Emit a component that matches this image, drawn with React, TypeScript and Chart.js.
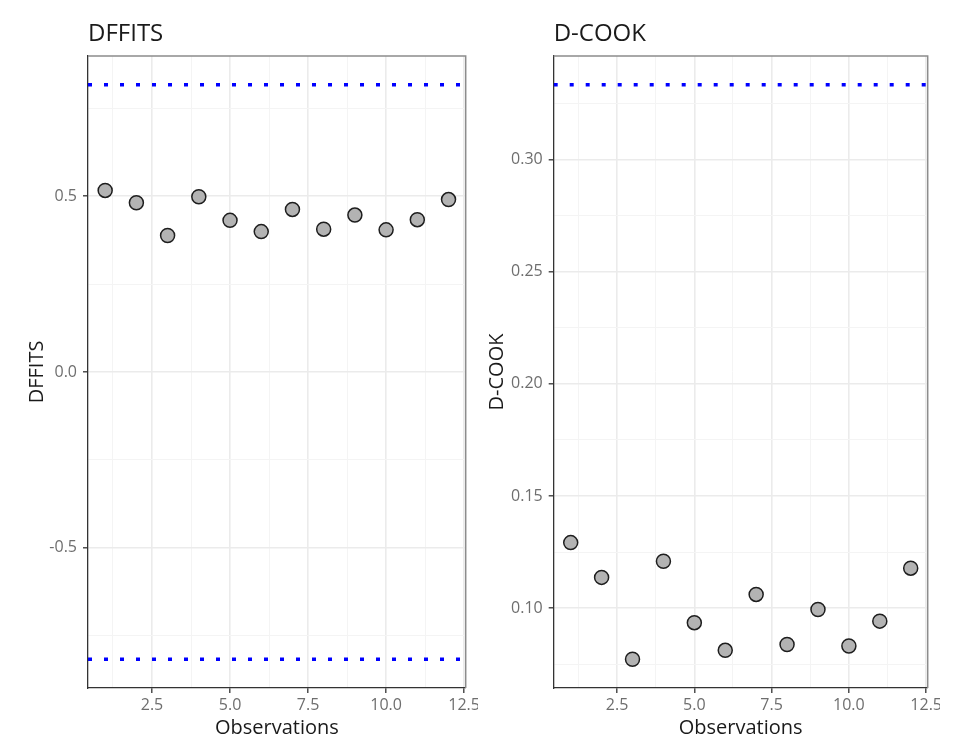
import React, { useEffect, useRef } from "react";
import { Chart, registerables } from "chart.js";

Chart.register(...registerables);

// ---------- data ----------
const OBSERVATIONS = [1, 2, 3, 4, 5, 6, 7, 8, 9, 10, 11, 12];
const DFFITS_VALUES = [0.516, 0.481, 0.388, 0.498, 0.431, 0.399, 0.462, 0.406, 0.446, 0.404, 0.433, 0.49];
const COOK_VALUES = [0.1292, 0.1137, 0.0772, 0.1209, 0.0935, 0.0812, 0.1061, 0.0838, 0.0994, 0.0831, 0.0942, 0.1178];
const DFFITS_THRESHOLD = 0.8165; // +/- cut-off lines
const COOK_THRESHOLD = 0.3333;

const X_MAJOR = [2.5, 5, 7.5, 10, 12.5];
const X_MINOR = [1.25, 3.75, 6.25, 8.75, 11.25];
const DFFITS_Y_MAJOR = [-0.5, 0, 0.5];
const DFFITS_Y_MINOR = [-0.75, -0.25, 0.25, 0.75];
const COOK_Y_MAJOR = [0.1, 0.15, 0.2, 0.25, 0.3];
const COOK_Y_MINOR = [0.075, 0.125, 0.175, 0.225, 0.275, 0.325];

const FONT = "'Open Sans', 'Noto Sans', 'DejaVu Sans', sans-serif";

type PanelProps = {
  title: string;
  values: number[];
  thresholds: number[];
  yMajor: number[];
  yMinor: number[];
  yDecimals: number;
  left: number;
  width: number;
  yAxisWidth: number;
  yTitlePad: number;
};

const isIn = (arr: number[], v: number) => arr.some((m) => Math.abs(m - v) < 1e-9);

function Panel(p: PanelProps) {
  const ref = useRef<HTMLCanvasElement>(null);
  useEffect(() => {
    const canvas = ref.current!;
    const xs = OBSERVATIONS;
    const xRange = Math.max(...xs) - Math.min(...xs);
    const xMin = Math.min(...xs) - 0.05 * xRange;
    const xMax = Math.max(...xs) + 0.05 * xRange;
    const allY = [...p.values, ...p.thresholds];
    const yLo = Math.min(...allY);
    const yHi = Math.max(...allY);
    const yMin = yLo - 0.05 * (yHi - yLo);
    const yMax = yHi + 0.05 * (yHi - yLo);

    const panelBorder = {
      id: "panelBorder",
      afterDraw(chart: any) {
        const { ctx, chartArea: a } = chart;
        ctx.save();
        ctx.strokeStyle = "#8c8c8c";
        ctx.lineWidth = 1.5;
        ctx.beginPath();
        ctx.moveTo(a.left, a.top);
        ctx.lineTo(a.right, a.top);
        ctx.lineTo(a.right, a.bottom);
        ctx.stroke();
        ctx.restore();
      },
    };

    const gridColor = (majors: number[]) => (c: any) =>
      c.tick && isIn(majors, c.tick.value) ? "#ebebeb" : "#f4f4f4";
    const gridWidth = (majors: number[]) => (c: any) =>
      c.tick && isIn(majors, c.tick.value) ? 1.6 : 1;
    const tickColor = (majors: number[]) => (c: any) =>
      c.tick && isIn(majors, c.tick.value) ? "#333333" : "rgba(0,0,0,0)";

    const lineSets = p.thresholds.map((t) => ({
      type: "scatter" as const,
      data: [
        { x: xMin, y: t },
        { x: xMax, y: t },
      ],
      showLine: true,
      borderColor: "#0000ff",
      borderWidth: 3.6,
      borderDash: [4, 12],
      borderCapStyle: "butt" as const,
      pointRadius: 0,
      pointHoverRadius: 0,
    }));

    const chart = new Chart(canvas, {
      type: "scatter",
      data: {
        datasets: [
          {
            data: xs.map((x, i) => ({ x, y: p.values[i] })),
            pointRadius: 7,
            pointHoverRadius: 7,
            backgroundColor: "#b3b3b3",
            borderColor: "#1e1e1e",
            borderWidth: 1.5,
          },
          ...lineSets,
        ] as any,
      },
      options: {
        animation: false,
        responsive: false,
        devicePixelRatio: 1,
        layout: { padding: { top: 0, left: 0, bottom: 0, right: 12.3 } },
        plugins: {
          legend: { display: false },
          tooltip: { enabled: false },
          title: {
            display: true,
            text: p.title,
            align: "start",
            fullSize: false,
            color: "#1a1a1a",
            font: { family: FONT, size: 24, weight: "normal" },
            padding: { top: 20, bottom: 7.2 },
          },
        },
        scales: {
          x: {
            type: "linear",
            min: xMin,
            max: xMax,
            afterBuildTicks: (s: any) => {
              s.ticks = [...X_MAJOR, ...X_MINOR].sort((a, b) => a - b).map((v) => ({ value: v }));
            },
            afterFit: (s: any) => {
              s.height = 61;
              s.paddingLeft = 0;
              s.paddingRight = 0;
            },
            ticks: {
              autoSkip: false,
              maxRotation: 0,
              padding: 3.2,
              color: "#6e6e6e",
              font: { family: FONT, size: 16 },
              callback: (v: any) => (isIn(X_MAJOR, Number(v)) ? Number(v).toFixed(1) : ""),
            },
            grid: {
              color: gridColor(X_MAJOR),
              lineWidth: gridWidth(X_MAJOR),
              tickColor: tickColor(X_MAJOR),
              tickLength: 5,
              tickWidth: 1.3,
            },
            border: { display: true, color: "#333333", width: 1.3 },
            title: {
              display: true,
              text: "Observations",
              color: "#1a1a1a",
              font: { family: FONT, size: 20 },
              padding: { top: 0, bottom: 9 },
            },
          },
          y: {
            type: "linear",
            min: yMin,
            max: yMax,
            afterBuildTicks: (s: any) => {
              s.ticks = [...p.yMajor, ...p.yMinor].sort((a, b) => a - b).map((v) => ({ value: v }));
            },
            afterFit: (s: any) => {
              s.width = p.yAxisWidth;
              s.paddingTop = 0;
              s.paddingBottom = 0;
            },
            ticks: {
              autoSkip: false,
              padding: 6,
              color: "#6e6e6e",
              font: { family: FONT, size: 16 },
              callback: (v: any) => (isIn(p.yMajor, Number(v)) ? Number(v).toFixed(p.yDecimals) : ""),
            },
            grid: {
              color: gridColor(p.yMajor),
              lineWidth: gridWidth(p.yMajor),
              tickColor: tickColor(p.yMajor),
              tickLength: 5,
              tickWidth: 1.3,
            },
            border: { display: true, color: "#333333", width: 1.3 },
            title: {
              display: true,
              text: p.title,
              color: "#1a1a1a",
              font: { family: FONT, size: 20 },
              padding: { top: p.yTitlePad, bottom: 0 },
            },
          },
        },
      } as any,
      plugins: [panelBorder],
    });
    return () => chart.destroy();
  }, []);
  return (
    <canvas
      ref={ref}
      width={p.width}
      height={749}
      style={{ position: "absolute", left: p.left, top: 0, width: p.width, height: 749 }}
    />
  );
}

export default function App() {
  return (
    <div style={{ position: "absolute", left: 0, top: 0, width: 955, height: 749, background: "#ffffff", overflow: "hidden" }}>
      <Panel
        title="DFFITS"
        values={DFFITS_VALUES}
        thresholds={[DFFITS_THRESHOLD, -DFFITS_THRESHOLD]}
        yMajor={DFFITS_Y_MAJOR}
        yMinor={DFFITS_Y_MINOR}
        yDecimals={1}
        left={0}
        width={478}
        yAxisWidth={88}
        yTitlePad={25}
      />
      <Panel
        title="D-COOK"
        values={COOK_VALUES}
        thresholds={[COOK_THRESHOLD]}
        yMajor={COOK_Y_MAJOR}
        yMinor={COOK_Y_MINOR}
        yDecimals={2}
        left={478}
        width={462}
        yAxisWidth={75.7}
        yTitlePad={7.2}
      />
    </div>
  );
}
